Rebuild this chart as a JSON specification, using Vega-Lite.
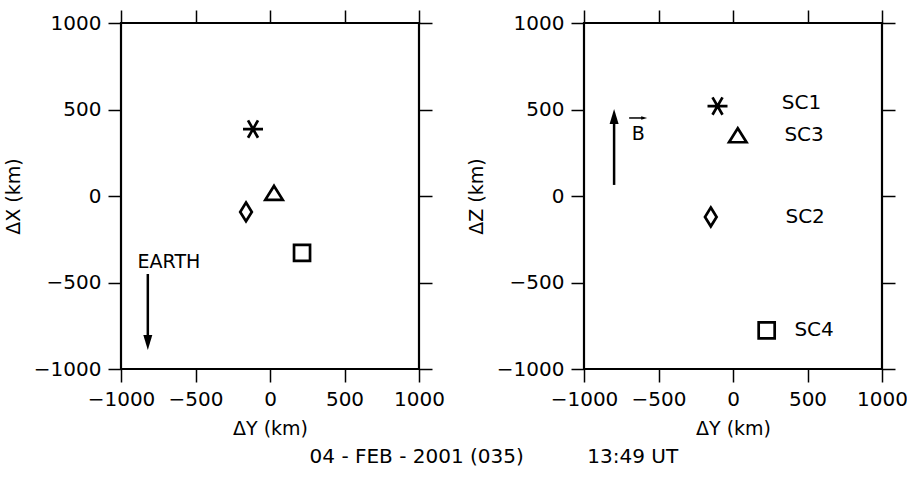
{
  "$schema": "https://vega.github.io/schema/vega-lite/v6.json",
  "background": "white",
  "padding": {"left": 3, "top": 8, "right": 0, "bottom": 0},
  "spacing": 20,
  "config": {
    "view": {"stroke": "black", "strokeWidth": 2.2},
    "font": "DejaVu Sans",
    "axis": {
      "grid": false, "domain": false, "ticks": true, "tickColor": "black", "tickWidth": 1.5, "tickSize": 13,
      "labelFont": "DejaVu Sans", "labelFontSize": 20, "labelColor": "black", "labelFlush": false, "labelOverlap": false,
      "titleFont": "DejaVu Sans", "titleFontSize": 19, "titleFontWeight": "normal", "titleColor": "black",
      "labelPadding": 7, "titlePadding": 10
    },
    "text": {"font": "DejaVu Sans", "color": "black"}
  },
  "title": {
    "text": "04 - FEB - 2001 (035)\u00a0\u00a0\u00a0\u00a0\u00a0\u00a0\u00a0\u00a0\u00a0\u00a013:49 UT",
    "orient": "bottom", "anchor": "middle", "fontSize": 20, "font": "DejaVu Sans",
    "fontWeight": "normal", "color": "black", "offset": 8, "dx": 38
  },
  "hconcat": [
    {
      "width": 298, "height": 346,
      "layer": [
        {
          "data": {"values": [
            {"sc": "SC1", "dY": -114, "dX": 387},
            {"sc": "SC2", "dY": -161, "dX": -92},
            {"sc": "SC3", "dY": 27, "dX": 18},
            {"sc": "SC4", "dY": 215, "dX": -329}
          ]},
          "mark": {"type": "point", "filled": false, "stroke": "black", "strokeWidth": 2.7, "opacity": 1},
          "encoding": {
            "x": {"field": "dY", "type": "quantitative", "scale": {"domain": [-1000, 1000], "nice": false, "zero": false},
                  "axis": {"orient": "bottom", "title": "ΔY (km)", "values": [-1000, -500, 0, 500, 1000], "format": "d"}},
            "y": {"field": "dX", "type": "quantitative", "scale": {"domain": [-1000, 1000], "nice": false, "zero": false},
                  "axis": {"orient": "left", "title": "ΔX (km)", "values": [-1000, -500, 0, 500, 1000], "format": "d"}},
            "shape": {"field": "sc", "type": "nominal", "legend": null,
                      "scale": {"domain": ["SC1", "SC2", "SC3", "SC4"],
                                "range": ["M-1,0L1,0M-0.5,-0.87L0.5,0.87M-0.5,0.87L0.5,-0.87", "M0,-1L0.62,0L0,1L-0.62,0Z", "M0,-0.8L1,0.8L-1,0.8Z", "square"]}},
            "size": {"field": "sc", "type": "nominal", "legend": null,
                     "scale": {"domain": ["SC1", "SC2", "SC3", "SC4"], "range": [400, 256, 256, 121]}}
          }
        },
        {
          "data": {"values": [{"dY": -820, "from": -451, "to": -847}]},
          "mark": {"type": "rule", "color": "black", "strokeWidth": 2.5},
          "encoding": {
            "x": {"field": "dY", "type": "quantitative", "axis": {"orient": "top", "labels": false, "title": null, "values": [-1000, -500, 0, 500, 1000]}},
            "y": {"field": "from", "type": "quantitative", "axis": {"orient": "right", "labels": false, "title": null, "values": [-1000, -500, 0, 500, 1000]}},
            "y2": {"field": "to"}
          }
        },
        {
          "data": {"values": [{"dY": -820, "dX": -847}]},
          "mark": {"type": "point", "filled": true, "color": "black", "opacity": 1, "shape": "M-0.6,-1L0.6,-1L0,1Z", "size": 225},
          "encoding": {
            "x": {"field": "dY", "type": "quantitative", "axis": null},
            "y": {"field": "dX", "type": "quantitative", "axis": null}
          }
        },
        {
          "data": {"values": [{"dY": -678, "dX": -379, "label": "EARTH"}]},
          "mark": {"type": "text", "fontSize": 19, "align": "center", "baseline": "middle"},
          "encoding": {
            "x": {"field": "dY", "type": "quantitative", "axis": null},
            "y": {"field": "dX", "type": "quantitative", "axis": null},
            "text": {"field": "label"}
          }
        }
      ],
      "resolve": {"axis": {"x": "independent", "y": "independent"}}
    },
    {
      "width": 298, "height": 346,
      "layer": [
        {
          "data": {"values": [
            {"sc": "SC1", "dY": -104, "dZ": 520},
            {"sc": "SC2", "dY": -149, "dZ": -121},
            {"sc": "SC3", "dY": 32, "dZ": 351},
            {"sc": "SC4", "dY": 226, "dZ": -777}
          ]},
          "mark": {"type": "point", "filled": false, "stroke": "black", "strokeWidth": 2.7, "opacity": 1},
          "encoding": {
            "x": {"field": "dY", "type": "quantitative", "scale": {"domain": [-1000, 1000], "nice": false, "zero": false},
                  "axis": {"orient": "bottom", "title": "ΔY (km)", "values": [-1000, -500, 0, 500, 1000], "format": "d"}},
            "y": {"field": "dZ", "type": "quantitative", "scale": {"domain": [-1000, 1000], "nice": false, "zero": false},
                  "axis": {"orient": "left", "title": "ΔZ (km)", "values": [-1000, -500, 0, 500, 1000], "format": "d"}},
            "shape": {"field": "sc", "type": "nominal", "legend": null,
                      "scale": {"domain": ["SC1", "SC2", "SC3", "SC4"],
                                "range": ["M-1,0L1,0M-0.5,-0.87L0.5,0.87M-0.5,0.87L0.5,-0.87", "M0,-1L0.62,0L0,1L-0.62,0Z", "M0,-0.8L1,0.8L-1,0.8Z", "square"]}},
            "size": {"field": "sc", "type": "nominal", "legend": null,
                     "scale": {"domain": ["SC1", "SC2", "SC3", "SC4"], "range": [400, 256, 256, 121]}}
          }
        },
        {
          "data": {"values": [
            {"dY": 327, "dZ": 539, "label": "SC1"},
            {"dY": 345, "dZ": 353, "label": "SC3"},
            {"dY": 352, "dZ": -121, "label": "SC2"},
            {"dY": 412, "dZ": -775, "label": "SC4"}
          ]},
          "mark": {"type": "text", "fontSize": 20, "align": "left", "baseline": "middle"},
          "encoding": {
            "x": {"field": "dY", "type": "quantitative", "axis": {"orient": "top", "labels": false, "title": null, "values": [-1000, -500, 0, 500, 1000]}},
            "y": {"field": "dZ", "type": "quantitative", "axis": {"orient": "right", "labels": false, "title": null, "values": [-1000, -500, 0, 500, 1000]}},
            "text": {"field": "label"}
          }
        },
        {
          "data": {"values": [{"y": -798, "from": 64, "to": 460}]},
          "mark": {"type": "rule", "color": "black", "strokeWidth": 2.5},
          "encoding": {
            "x": {"field": "y", "type": "quantitative", "axis": null},
            "y": {"field": "from", "type": "quantitative", "axis": null},
            "y2": {"field": "to"}
          }
        },
        {
          "data": {"values": [{"y0": -697, "y1": -604, "z": 451}]},
          "mark": {"type": "rule", "color": "black", "strokeWidth": 1.5},
          "encoding": {
            "x": {"field": "y0", "type": "quantitative", "axis": null},
            "x2": {"field": "y1"},
            "y": {"field": "z", "type": "quantitative", "axis": null}
          }
        },
        {
          "data": {"values": [{"dY": -798, "dZ": 460}]},
          "mark": {"type": "point", "filled": true, "color": "black", "opacity": 1, "shape": "M-0.6,1L0.6,1L0,-1Z", "size": 225},
          "encoding": {
            "x": {"field": "dY", "type": "quantitative", "axis": null},
            "y": {"field": "dZ", "type": "quantitative", "axis": null}
          }
        },
        {
          "data": {"values": [{"dY": -596, "dZ": 451}]},
          "mark": {"type": "point", "filled": true, "color": "black", "opacity": 1, "shape": "M-1,-0.6L-1,0.6L1,0Z", "size": 36},
          "encoding": {
            "x": {"field": "dY", "type": "quantitative", "axis": null},
            "y": {"field": "dZ", "type": "quantitative", "axis": null}
          }
        },
        {
          "data": {"values": [{"dY": -636, "dZ": 361, "label": "B"}]},
          "mark": {"type": "text", "fontSize": 19, "align": "center", "baseline": "middle"},
          "encoding": {
            "x": {"field": "dY", "type": "quantitative", "axis": null},
            "y": {"field": "dZ", "type": "quantitative", "axis": null},
            "text": {"field": "label"}
          }
        }
      ],
      "resolve": {"axis": {"x": "independent", "y": "independent"}}
    }
  ]
}
